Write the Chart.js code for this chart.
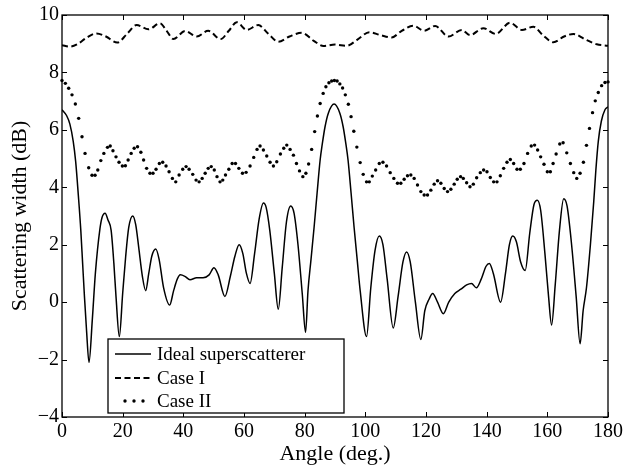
<!DOCTYPE html>
<html>
<head>
<meta charset="utf-8">
<script src="https://cdn.jsdelivr.net/npm/chart.js@4.4.1/dist/chart.umd.min.js"></script>
<style>
  html, body { margin: 0; padding: 0; background: #fff; }
  #wrap { width: 626px; height: 465px; }
</style>
</head>
<body>
<div id="wrap"><canvas id="chart" width="626" height="465"></canvas></div>
<script>
// tick values
const angleTicks = [0, 20, 40, 60, 80, 100, 120, 140, 160, 180];
const dbTicks = [-4, -2, 0, 2, 4, 6, 8, 10];

// Ideal superscatterer (solid)
const idealAngle = [
  0, 1.5, 2.6, 3.7, 4.5, 5.4, 6.2, 6.8, 7.4, 8.1,
  8.9, 10.0, 11.0, 12.5, 13.2, 14.2, 15.2, 16.2, 17.1, 17.8,
  18.9, 20.0, 21.0, 22.0, 23.3, 24.3, 25.3, 26.5, 27.6, 28.6,
  29.6, 30.9, 32.0, 33.5, 35.5, 36.8, 38.0, 39.0, 40.5, 42.2,
  44.4, 46.5, 48.5, 50.1, 51.5, 53.7, 55.5, 57.0, 58.4, 59.6,
  60.8, 62.0, 63.5, 65.0, 66.4, 67.3, 68.5, 70.0, 71.3, 72.6,
  74.0, 75.4, 76.5, 77.8, 79.2, 80.3, 81.1, 82.1, 83.1, 84.1,
  85.1, 85.8, 86.7, 87.8, 89.7, 91.6, 92.7, 93.6, 94.3, 95.3,
  96.3, 97.3, 98.3, 100.4, 101.8, 103.2, 104.6, 105.8, 107.2, 109.2,
  110.8, 112.4, 113.6, 114.8, 116.5, 118.3, 119.6, 121.0, 122.2, 123.8,
  125.7, 127.5, 129.5, 131.5, 133.4, 135.0, 136.6, 138.2, 139.8, 140.9,
  142.2, 144.6, 146.2, 147.5, 148.6, 149.8, 151.2, 152.7, 154.2, 155.6,
  156.7, 157.8, 159.2, 160.4, 161.4, 162.6, 164.0, 165.4, 166.5, 168.0,
  169.5, 170.8, 171.8, 172.9, 174.2, 175.3, 176.0, 176.8, 177.8, 179.0,
  180
];
const idealDb = [
  6.7, 6.5, 6.2, 5.6, 4.9, 3.7, 2.5, 1.35, 0.2, -1.0,
  -2.1, -0.6, 1.0, 2.55, 2.95, 3.1, 2.85, 2.5, 1.35, 0.2,
  -1.2, 0.3, 1.6, 2.6, 3.0, 2.7, 1.9, 0.9, 0.4, 1.0,
  1.6, 1.85, 1.5, 0.5, -0.1, 0.4, 0.8, 0.95, 0.9, 0.78,
  0.85, 0.85, 0.95, 1.2, 0.95, 0.2, 0.9, 1.6, 2.0, 1.7,
  1.0, 0.65, 1.7, 2.9, 3.45, 3.3, 2.5, 1.0, -0.25, 1.2,
  2.8, 3.35, 3.1, 2.0, 0.3, -1.05, 0.4, 1.5, 2.6, 3.8,
  4.95, 5.5, 6.1, 6.58, 6.9, 6.58, 6.1, 5.5, 4.95, 3.8,
  2.6, 1.5, 0.4, -1.2, 0.5, 1.8, 2.3, 2.0, 0.8, -0.9,
  0.2, 1.4, 1.75, 1.4, 0.0, -1.3, -0.3, 0.1, 0.3, 0.0,
  -0.4, 0.0, 0.3, 0.45, 0.6, 0.65, 0.5, 0.8, 1.25, 1.35,
  1.0, 0.0, 1.0, 2.0, 2.3, 2.1, 1.4, 1.1, 2.4, 3.4,
  3.55, 3.2, 1.7, 0.2, -0.8, 0.6, 2.5, 3.6, 3.35, 2.0,
  0.2, -1.45, -0.3, 0.5, 2.0, 3.5, 4.6, 5.6, 6.3, 6.7,
  6.8
];

// Case I (dashed)
const case1Angle = [
  0, 2.6, 5, 8, 11.4, 14.5, 18.2, 21.5, 24.6, 28.5,
  32.3, 34.5, 36.7, 40.6, 44.4, 48.2, 52.3, 55, 57.6, 60.9,
  64.7, 68, 71.3, 75, 79, 83, 86.2, 90, 93.9, 97.5,
  101.3, 105, 108.7, 112, 115.8, 119.4, 123, 127.4, 131.8, 134.5,
  138.9, 143, 147.7, 151.6, 155.4, 158.5, 162, 165.5, 168.6, 172.5,
  176.3, 180
];
const case1Db = [
  8.95, 8.9, 8.98, 9.2, 9.36, 9.25, 9.04, 9.35, 9.65, 9.5,
  9.71, 9.45, 9.16, 9.44, 9.25, 9.45, 9.16, 9.45, 9.75, 9.48,
  9.65, 9.35, 9.07, 9.25, 9.38, 9.1, 8.92, 8.97, 8.93, 9.15,
  9.4, 9.3, 9.22, 9.45, 9.63, 9.45, 9.62, 9.25, 9.48, 9.3,
  9.54, 9.34, 9.73, 9.48, 9.59, 9.3, 9.05, 9.25, 9.34, 9.15,
  8.98, 8.93
];

// Case II (dotted markers)
const case2Angle = [
  0, 1.1, 2.2, 3.3, 4.4, 5.5, 6.6, 7.6, 8.8, 9.9,
  10.9, 11.8, 12.8, 13.8, 15.0, 15.9, 16.8, 17.8, 18.8, 19.9,
  20.9, 21.8, 22.8, 23.8, 24.9, 26.0, 26.9, 27.9, 29.0, 30.0,
  31.0, 32.1, 33.2, 34.3, 35.3, 36.4, 37.5, 38.6, 39.8, 40.9,
  41.9, 43.1, 44.2, 45.2, 46.2, 47.2, 48.2, 49.2, 50.2, 51.1,
  52.1, 53.0, 53.9, 55.0, 56.1, 57.2, 58.3, 59.5, 60.7, 62.0,
  63.2, 64.3, 65.3, 66.4, 67.5, 68.6, 69.7, 70.8, 72.0, 73.1,
  74.1, 75.2, 76.3, 77.3, 78.3, 79.4, 80.4, 81.3, 82.3, 83.3,
  84.2, 85.1, 86.1, 87.0, 88.0, 88.9, 89.8, 90.7, 91.6, 92.5,
  93.4, 94.4, 95.3, 96.2, 97.2, 98.3, 99.3, 100.4, 101.3, 102.3,
  103.4, 104.6, 105.8, 107.0, 108.2, 109.4, 110.6, 111.7, 112.8, 113.9,
  115.0, 116.1, 117.2, 118.3, 119.4, 120.5, 121.6, 122.7, 123.8, 124.9,
  126.0, 127.1, 128.2, 129.3, 130.3, 131.4, 132.3, 133.4, 134.5, 135.6,
  136.7, 137.9, 139.0, 140.1, 141.2, 142.3, 143.4, 144.5, 145.6, 146.7,
  147.8, 148.9, 150.0, 151.1, 152.3, 153.5, 154.7, 155.8, 156.8, 157.8,
  158.9, 160.0, 161.0, 161.9, 162.9, 164.1, 165.2, 166.4, 167.6, 168.7,
  169.7, 170.8, 171.9, 172.9, 173.9, 174.9, 175.8, 176.8, 177.9, 179.0,
  180
];
const case2Db = [
  7.72, 7.62, 7.45, 7.22, 6.9, 6.4, 5.76, 5.18, 4.68, 4.42,
  4.42, 4.6, 4.93, 5.18, 5.39, 5.44, 5.27, 5.06, 4.87, 4.74,
  4.75, 4.95, 5.18, 5.36, 5.41, 5.22, 4.95, 4.66, 4.49, 4.49,
  4.63, 4.83, 4.87, 4.74, 4.54, 4.31, 4.19, 4.43, 4.63, 4.72,
  4.63, 4.45, 4.25, 4.19, 4.31, 4.49, 4.66, 4.72, 4.6, 4.37,
  4.19, 4.25, 4.43, 4.63, 4.83, 4.83, 4.66, 4.49, 4.52, 4.74,
  5.04, 5.32, 5.44, 5.3, 5.09, 4.87, 4.74, 4.89, 5.16, 5.36,
  5.47, 5.32, 5.12, 4.83, 4.57, 4.37, 4.49, 4.81, 5.32, 5.94,
  6.48, 6.92, 7.27, 7.5, 7.64, 7.7, 7.72, 7.7, 7.6, 7.46,
  7.22, 6.89, 6.46, 5.95, 5.4, 4.86, 4.45, 4.19, 4.19, 4.39,
  4.6, 4.83, 4.87, 4.74, 4.51, 4.31, 4.14, 4.14, 4.28, 4.4,
  4.43, 4.31, 4.08, 3.85, 3.73, 3.73, 3.9, 4.11, 4.23, 4.14,
  3.96, 3.85, 3.93, 4.11, 4.28, 4.37, 4.31, 4.16, 4.02, 4.11,
  4.33, 4.51, 4.6, 4.54, 4.34, 4.19, 4.19, 4.4, 4.66, 4.87,
  4.97, 4.83, 4.63, 4.63, 4.83, 5.18, 5.44, 5.47, 5.3, 5.06,
  4.8, 4.54, 4.54, 4.83, 5.16, 5.51, 5.55, 5.2, 4.83, 4.51,
  4.31, 4.49, 4.87, 5.46, 6.05, 6.6, 7.01, 7.3, 7.54, 7.65,
  7.67
];

const serif = '"Liberation Serif", "Times New Roman", serif';

function toPoints(xs, ys) {
  return xs.map((x, i) => ({ x: x, y: ys[i] }));
}

// box round the plot + inward ticks on all four sides (matlab look)
const frameTicks = {
  id: 'frameTicks',
  afterDatasetsDraw(chart) {
    const { ctx, chartArea: a, scales } = chart;
    const tl = 5;
    ctx.save();
    ctx.strokeStyle = '#000';
    ctx.lineWidth = 1.3;
    ctx.strokeRect(a.left, a.top, a.right - a.left, a.bottom - a.top);
    ctx.beginPath();
    scales.x.ticks.forEach(t => {
      const px = Math.round(scales.x.getPixelForValue(t.value)) + 0.5;
      ctx.moveTo(px, a.bottom); ctx.lineTo(px, a.bottom - tl);
      ctx.moveTo(px, a.top); ctx.lineTo(px, a.top + tl);
    });
    scales.y.ticks.forEach(t => {
      const py = Math.round(scales.y.getPixelForValue(t.value)) + 0.5;
      ctx.moveTo(a.left, py); ctx.lineTo(a.left + tl, py);
      ctx.moveTo(a.right, py); ctx.lineTo(a.right - tl, py);
    });
    ctx.lineWidth = 1;
    ctx.stroke();
    ctx.restore();
  }
};

// legend box inside the plot, lower left
const boxLegend = {
  id: 'boxLegend',
  afterDraw(chart) {
    const { ctx, chartArea: a } = chart;
    const left = a.left + 46, top = a.bottom - 78, w = 236, h = 74;
    ctx.save();
    ctx.fillStyle = '#fff';
    ctx.fillRect(left, top, w, h);
    ctx.strokeStyle = '#000';
    ctx.lineWidth = 1.3;
    ctx.strokeRect(left, top, w, h);
    ctx.font = '19px ' + serif;
    ctx.textBaseline = 'middle';
    ctx.fillStyle = '#000';
    const rows = [15, 39, 62];
    chart.data.datasets.forEach((ds, i) => {
      const cy = top + rows[i];
      if (ds.showLine === false) {
        [17, 26, 35].forEach(dx => {
          ctx.beginPath();
          ctx.arc(left + dx, cy, ds.pointRadius, 0, Math.PI * 2);
          ctx.fill();
        });
      } else {
        ctx.beginPath();
        ctx.setLineDash(ds.borderDash || []);
        ctx.lineWidth = ds.borderWidth;
        ctx.moveTo(left + 7, cy);
        ctx.lineTo(left + 43, cy);
        ctx.stroke();
        ctx.setLineDash([]);
      }
      ctx.fillText(ds.label, left + 49, cy + 1);
    });
    ctx.restore();
  }
};

new Chart(document.getElementById('chart'), {
  type: 'line',
  data: {
    datasets: [
      {
        label: 'Ideal superscatterer',
        data: toPoints(idealAngle, idealDb),
        borderColor: '#000',
        borderWidth: 1.5,
        pointRadius: 0,
        cubicInterpolationMode: 'monotone'
      },
      {
        label: 'Case I',
        data: toPoints(case1Angle, case1Db),
        borderColor: '#000',
        borderWidth: 2,
        borderDash: [6, 3.5],
        pointRadius: 0,
        cubicInterpolationMode: 'monotone'
      },
      {
        label: 'Case II',
        data: toPoints(case2Angle, case2Db),
        showLine: false,
        pointRadius: 1.7,
        pointStyle: 'circle',
        pointBackgroundColor: '#000',
        pointBorderWidth: 0,
        clip: 3
      }
    ]
  },
  options: {
    responsive: false,
    animation: false,
    devicePixelRatio: 1,
    layout: { padding: { left: 0, right: 18, top: 15, bottom: 0 } },
    plugins: { legend: { display: false }, tooltip: { enabled: false } },
    scales: {
      x: {
        type: 'linear',
        min: 0,
        max: 180,
        afterFit: s => { s.height = 48; },
        afterBuildTicks: s => { s.ticks = angleTicks.map(v => ({ value: v })); },
        grid: { display: false, drawTicks: false },
        border: { display: false },
        ticks: { color: '#000', padding: 3, font: { family: serif, size: 20 } },
        title: {
          display: true,
          text: 'Angle (deg.)',
          color: '#000',
          font: { family: serif, size: 22, lineHeight: 1 },
          padding: { top: 0, bottom: 0 }
        }
      },
      y: {
        min: -4,
        max: 10,
        afterFit: s => { s.width = 62; },
        afterBuildTicks: s => { s.ticks = dbTicks.map(v => ({ value: v })); },
        grid: { display: false, drawTicks: false },
        border: { display: false },
        ticks: {
          color: '#000',
          padding: 3,
          font: { family: serif, size: 20 },
          callback: v => String(v).replace('-', '\u2212')
        },
        title: {
          display: true,
          text: 'Scattering width (dB)',
          color: '#000',
          font: { family: serif, size: 22, lineHeight: 1 },
          padding: { top: 9, bottom: 0 }
        }
      }
    }
  },
  plugins: [frameTicks, boxLegend]
});
</script>
</body>
</html>
